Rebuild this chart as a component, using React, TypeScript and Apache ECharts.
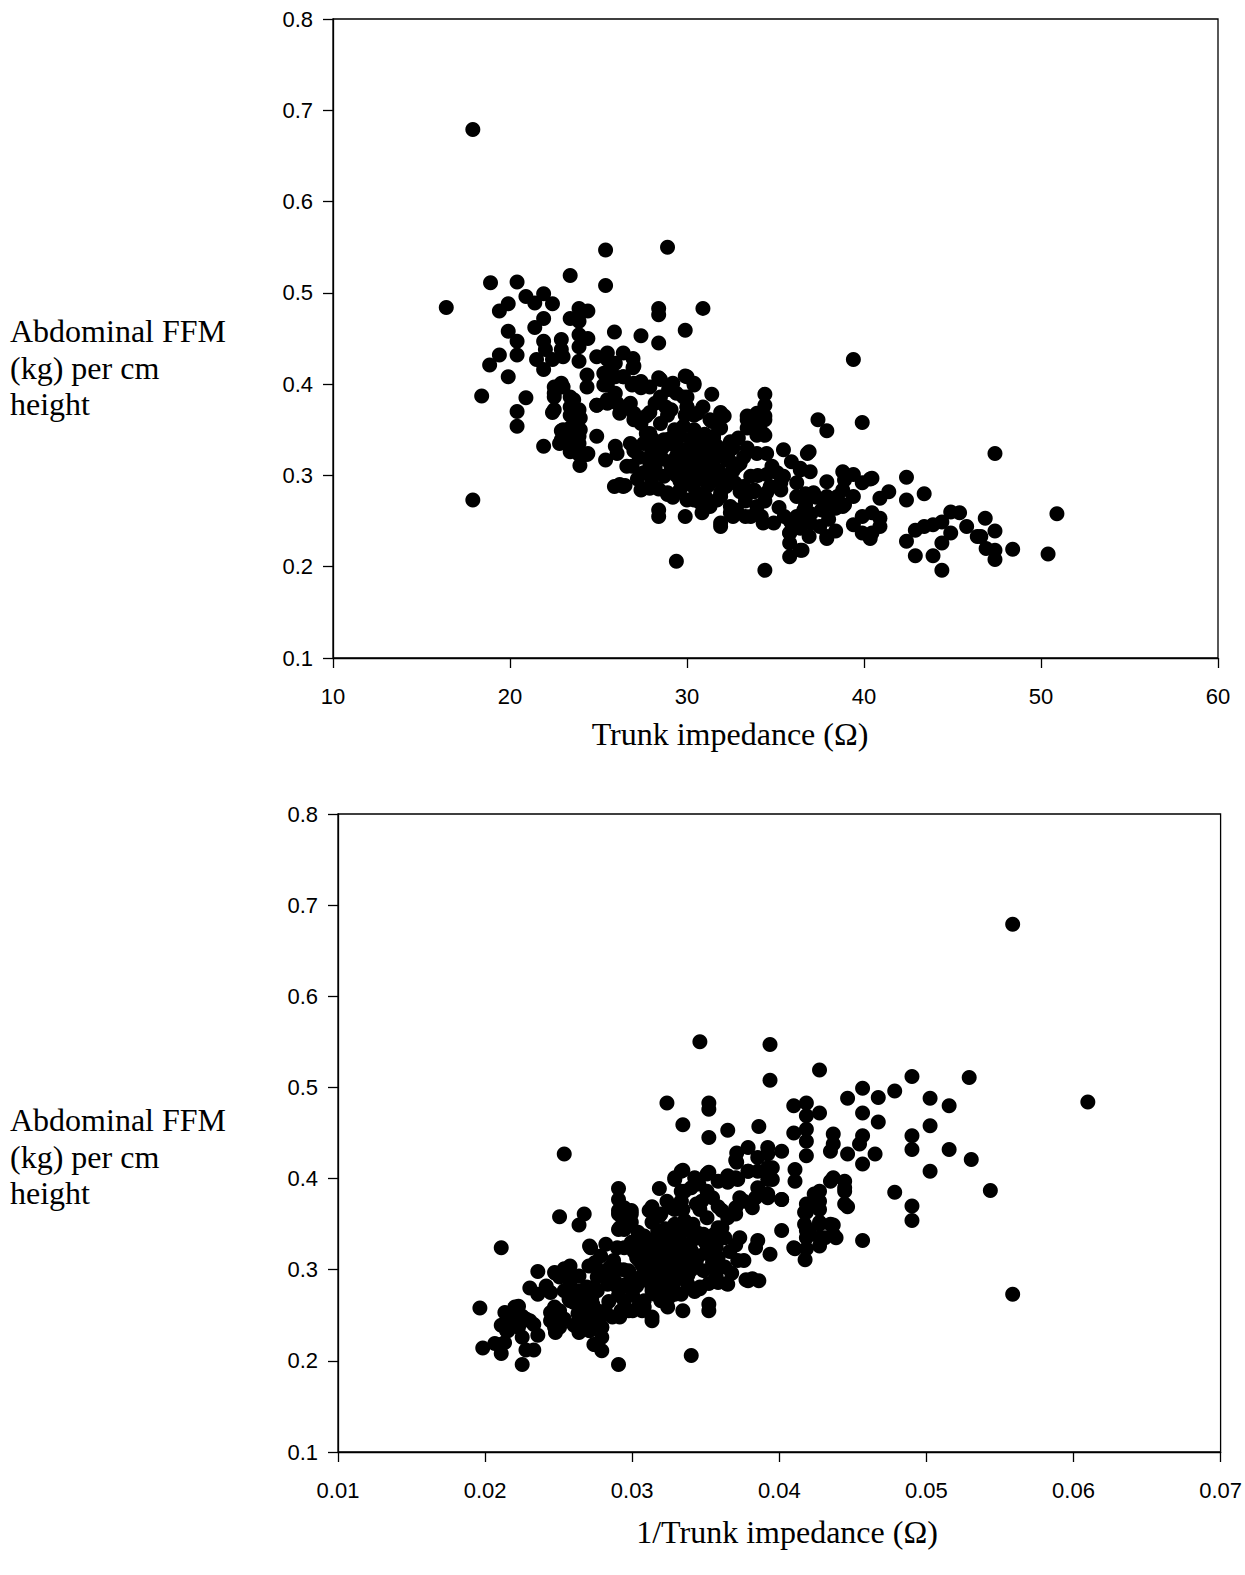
import React, { useEffect, useRef } from "react";
import * as echarts from "echarts";

// Trunk impedance (Ω) and abdominal FFM (kg) per cm height
const impedance = [
  17.9, 25.4, 28.9, 16.4, 18.9, 20.4, 23.4, 25.4, 20.9, 21.9, 21.4, 22.4, 19.9, 19.4, 23.9, 24.4, 23.4, 23.9, 21.9, 21.4,
  19.9, 25.9, 20.4, 20.4, 19.4, 18.85, 19.9, 18.4, 20.9, 20.4, 21.9, 22.9, 23.9, 24.4, 23.9, 22.0, 22.9, 21.5, 22.4, 23.0,
  21.9, 23.9, 24.35, 24.9, 25.5, 25.95, 25.3, 25.3, 25.95, 22.5, 22.9, 22.5, 22.5, 23.4, 23.4, 23.9, 24.35, 24.9, 25.5, 25.95,
  28.4, 28.4, 30.9, 29.9, 27.4, 28.4, 26.4, 26.95, 26.95, 26.4, 27.4, 28.4, 29.9, 30.4, 28.96, 29.4, 26.9, 27.9, 31.4, 30.9,
  31.9, 34.4, 34.4, 33.4, 33.95, 34.4, 26.8, 28.2, 28.8, 29.8, 30.0, 27.9, 20.4, 22.4, 23.4, 23.9, 21.9, 22.9, 23.4, 23.9,
  22.8, 23.4, 23.9, 23.4, 23.9, 24.4, 23.95, 24.9, 25.4, 25.95, 25.9, 17.9, 26.2, 26.5, 27.46, 28.4, 28.9, 28.4, 28.4, 29.4,
  29.9, 30.85, 31.9, 34.4, 35.8, 36.4, 35.8, 35.8, 35.9, 35.45, 36.8, 35.9, 33.6, 34.1, 34.3, 32.1, 31.3, 29.9, 29.3, 32.45,
  33.95, 34.5, 32.45, 35.1, 33.8, 34.7, 34.2, 34.9, 33.3, 32.45, 30.75, 30.0, 29.6, 26.8, 27.55, 28.4, 26.05, 26.9, 27.55, 28.1,
  28.7, 29.6, 30.3, 30.66, 31.3, 29.6, 30.4, 30.9, 31.7, 32.3, 33.0, 28.5, 29.4, 30.4, 30.9, 27.9, 29.1, 30.0, 26.2, 27.0,
  27.7, 28.5, 28.9, 30.6, 31.7, 27.9, 28.7, 31.9, 32.45, 32.8, 33.6, 34.5, 35.45, 36.2, 36.2, 36.6, 36.2, 32.8, 33.6, 33.95,
  30.4, 31.3, 31.7, 37.4, 37.9, 39.9, 36.9, 36.4, 36.96, 37.9, 38.8, 39.4, 40.35, 39.9, 38.9, 38.8, 39.4, 38.9, 38.5, 36.7,
  37.3, 36.7, 37.0, 36.5, 36.2, 38.4, 37.9, 36.9, 36.5, 39.4, 39.9, 40.45, 40.9, 40.9, 40.45, 39.9, 40.35, 40.9, 41.4, 42.4,
  42.4, 43.4, 42.4, 42.9, 43.4, 43.9, 44.4, 44.9, 45.4, 42.9, 43.9, 44.4, 44.9, 44.4, 45.8, 46.4, 46.85, 47.4, 50.9, 50.4,
  48.4, 47.4, 46.6, 46.9, 47.4, 47.4, 39.4, 31.4, 31.9, 33.4, 33.9, 34.4, 33.9, 33.4, 33.95, 34.4, 31.5, 36.4, 40.45, 38.8,
  38.4, 37.9, 32.6, 34.3, 35.8, 36.4, 36.96, 37.5, 37.9, 35.8, 36.4, 32.7, 33.2, 33.8, 34.5, 35.3, 37.15, 37.9, 38.3, 26.4,
  27.4, 27.9, 28.9, 26.6, 24.35, 23.2, 23.8, 22.9, 23.4, 23.97, 22.5, 23.0, 23.6, 23.6, 23.97, 23.0, 24.9, 25.5, 26.05, 26.6,
  27.0, 27.4, 27.7, 28.1, 25.5, 25.5, 26.4, 27.0, 27.4, 28.5, 29.2, 30.0, 30.4, 30.0, 28.5, 29.1, 30.0, 30.4, 29.8, 30.6,
  31.1, 31.5, 32.26, 32.45, 31.9, 31.9, 32.45, 31.9, 25.5, 27.0, 28.0, 28.6, 29.2, 29.8, 30.3, 30.8, 31.4, 29.0, 29.6, 30.2,
  30.6, 31.2, 31.8, 32.0, 27.3, 27.0, 28.2, 29.4, 30.9, 32.6, 33.2, 33.4, 32.9, 30.2, 29.0, 28.0, 27.2, 30.2, 31.2, 33.0,
  34.0, 34.8, 35.3, 30.5, 29.2, 31.0, 33.3, 34.4, 35.2, 35.5, 37.6, 38.0, 28.6, 29.9, 31.6, 32.2, 29.5, 31.0, 32.6, 28.0,
  30.0, 31.5,
];

const ffm = [
  0.679, 0.547, 0.550, 0.484, 0.511, 0.512, 0.519, 0.508, 0.496, 0.499, 0.489, 0.488, 0.488, 0.480, 0.483, 0.480, 0.472, 0.469, 0.472, 0.462,
  0.458, 0.457, 0.447, 0.432, 0.432, 0.421, 0.408, 0.387, 0.385, 0.370, 0.447, 0.449, 0.454, 0.450, 0.441, 0.438, 0.438, 0.427, 0.427, 0.430,
  0.416, 0.425, 0.410, 0.430, 0.434, 0.423, 0.412, 0.399, 0.408, 0.397, 0.401, 0.386, 0.372, 0.386, 0.375, 0.372, 0.397, 0.377, 0.379, 0.390,
  0.483, 0.476, 0.483, 0.459, 0.453, 0.445, 0.434, 0.428, 0.418, 0.408, 0.403, 0.407, 0.409, 0.401, 0.394, 0.390, 0.399, 0.397, 0.389, 0.375,
  0.369, 0.389, 0.377, 0.365, 0.368, 0.365, 0.379, 0.379, 0.375, 0.386, 0.375, 0.369, 0.354, 0.369, 0.366, 0.363, 0.332, 0.349, 0.352, 0.343,
  0.335, 0.335, 0.335, 0.326, 0.323, 0.324, 0.311, 0.343, 0.317, 0.332, 0.288, 0.273, 0.290, 0.289, 0.285, 0.285, 0.281, 0.262, 0.255, 0.206,
  0.255, 0.259, 0.248, 0.196, 0.211, 0.218, 0.226, 0.237, 0.248, 0.328, 0.324, 0.315, 0.361, 0.357, 0.346, 0.365, 0.361, 0.366, 0.350, 0.337,
  0.324, 0.324, 0.315, 0.303, 0.284, 0.288, 0.255, 0.248, 0.255, 0.266, 0.270, 0.273, 0.284, 0.335, 0.335, 0.335, 0.324, 0.310, 0.303, 0.301,
  0.299, 0.294, 0.302, 0.296, 0.305, 0.343, 0.350, 0.335, 0.332, 0.321, 0.313, 0.321, 0.321, 0.317, 0.317, 0.313, 0.310, 0.306, 0.368, 0.361,
  0.365, 0.357, 0.366, 0.368, 0.357, 0.346, 0.339, 0.281, 0.295, 0.310, 0.299, 0.301, 0.299, 0.292, 0.277, 0.262, 0.255, 0.262, 0.255, 0.266,
  0.273, 0.266, 0.273, 0.361, 0.349, 0.358, 0.326, 0.308, 0.304, 0.293, 0.304, 0.301, 0.296, 0.292, 0.295, 0.284, 0.277, 0.268, 0.277, 0.280,
  0.276, 0.268, 0.258, 0.250, 0.245, 0.239, 0.231, 0.233, 0.218, 0.246, 0.255, 0.259, 0.253, 0.244, 0.237, 0.237, 0.231, 0.275, 0.282, 0.298,
  0.273, 0.280, 0.228, 0.240, 0.244, 0.246, 0.249, 0.260, 0.259, 0.212, 0.212, 0.226, 0.237, 0.196, 0.244, 0.233, 0.253, 0.324, 0.258, 0.214,
  0.219, 0.239, 0.233, 0.220, 0.218, 0.208, 0.427, 0.359, 0.352, 0.361, 0.366, 0.361, 0.354, 0.352, 0.344, 0.344, 0.341, 0.306, 0.297, 0.266,
  0.264, 0.268, 0.255, 0.248, 0.251, 0.255, 0.248, 0.244, 0.233, 0.237, 0.242, 0.292, 0.288, 0.282, 0.281, 0.284, 0.281, 0.277, 0.273, 0.288,
  0.284, 0.286, 0.279, 0.310, 0.323, 0.335, 0.343, 0.339, 0.350, 0.350, 0.390, 0.397, 0.383, 0.372, 0.363, 0.350, 0.377, 0.383, 0.379, 0.375,
  0.368, 0.357, 0.346, 0.339, 0.412, 0.399, 0.408, 0.401, 0.396, 0.405, 0.401, 0.408, 0.399, 0.386, 0.386, 0.372, 0.375, 0.366, 0.354, 0.343,
  0.335, 0.343, 0.317, 0.299, 0.292, 0.277, 0.259, 0.244, 0.427, 0.420, 0.325, 0.330, 0.334, 0.328, 0.334, 0.326, 0.322, 0.315, 0.312, 0.322,
  0.310, 0.312, 0.305, 0.325, 0.320, 0.327, 0.308, 0.300, 0.300, 0.305, 0.320, 0.330, 0.341, 0.340, 0.340, 0.292, 0.296, 0.290, 0.289, 0.282,
  0.300, 0.310, 0.292, 0.282, 0.276, 0.278, 0.272, 0.272, 0.265, 0.255, 0.262, 0.252, 0.318, 0.300, 0.296, 0.288, 0.327, 0.345, 0.330, 0.300,
  0.316, 0.315,
];

// bottom panel: the same subjects plotted against 1/impedance
const invImpedance = impedance.map((v) => 1 / v);

const yAxisRange = { min: 0.1, max: 0.8, interval: 0.1 };
const xTopRange = { min: 10, max: 60, interval: 10 };
const xBottomRange = { min: 0.01, max: 0.07, interval: 0.01 };

const yTitleLines = ["Abdominal FFM", "(kg) per cm", "height"];
const xTopTitle = "Trunk impedance (\u03A9)";
const xBottomTitle = "1/Trunk impedance (\u03A9)";

export default function App() {
  const ref = useRef<HTMLDivElement>(null);
  useEffect(() => {
    if (!ref.current) return;
    const chart = echarts.init(ref.current, null, { renderer: "svg" });
    const sans = "Liberation Sans, Arial, sans-serif";
    const serif = "Liberation Serif, Times New Roman, serif";
    const axisCommon = {
      axisLine: { show: true, onZero: false, lineStyle: { color: "#000", width: 1.3 } },
      axisTick: { show: true, inside: false, length: 10, lineStyle: { color: "#000", width: 1.3 } },
      splitLine: { show: false },
    };
    const xAxis = (gridIndex: number, r: any, digits: number) => ({
      type: "value",
      gridIndex,
      min: r.min,
      max: r.max,
      interval: r.interval,
      ...axisCommon,
      axisLabel: {
        color: "#000",
        fontFamily: sans,
        fontSize: 22,
        margin: 27,
        formatter: (v: number) => (digits === 0 ? String(Math.round(v)) : v.toFixed(digits)),
      },
    });
    const yAxis = (gridIndex: number) => ({
      type: "value",
      gridIndex,
      min: yAxisRange.min,
      max: yAxisRange.max,
      interval: yAxisRange.interval,
      ...axisCommon,
      axisLabel: {
        color: "#000",
        fontFamily: sans,
        fontSize: 22,
        margin: 20,
        formatter: (v: number) => v.toFixed(1),
      },
    });
    const topData = impedance.map((x, i) => [x, ffm[i]]);
    const bottomData = invImpedance.map((x, i) => [x, ffm[i]]);
    const titleStyle = { fill: "#000", fontFamily: serif, fontSize: 32 };
    const dotStyle = { color: "#000", opacity: 1 };
    chart.setOption({
      animation: false,
      backgroundColor: "#fff",
      grid: [
        { left: 333, top: 19, width: 885, height: 639, show: true, borderColor: "#000", borderWidth: 1.3 },
        { left: 338, top: 814, width: 885, height: 638, show: true, borderColor: "#000", borderWidth: 1.3 },
      ],
      xAxis: [xAxis(0, xTopRange, 0), xAxis(1, xBottomRange, 2)],
      yAxis: [yAxis(0), yAxis(1)],
      series: [
        {
          type: "scatter",
          xAxisIndex: 0,
          yAxisIndex: 0,
          data: topData,
          symbol: "circle",
          symbolSize: 15,
          itemStyle: dotStyle,
        },
        {
          type: "scatter",
          xAxisIndex: 1,
          yAxisIndex: 1,
          data: bottomData,
          symbol: "circle",
          symbolSize: 15,
          itemStyle: dotStyle,
        },
      ],
      graphic: [
        {
          type: "text",
          left: 10,
          top: 313,
          style: { ...titleStyle, text: yTitleLines.join("\n"), lineHeight: 36.5 },
        },
        {
          type: "text",
          left: 10,
          top: 1102,
          style: { ...titleStyle, text: yTitleLines.join("\n"), lineHeight: 36.5 },
        },
        {
          type: "text",
          x: 730,
          y: 734,
          style: { ...titleStyle, text: xTopTitle, align: "center", verticalAlign: "middle" },
        },
        {
          type: "text",
          x: 787,
          y: 1532,
          style: { ...titleStyle, text: xBottomTitle, align: "center", verticalAlign: "middle" },
        },
      ],
    });
    return () => chart.dispose();
  }, []);
  return (
    <div
      ref={ref}
      style={{ position: "absolute", left: 0, top: 0, width: 1245, height: 1575, background: "#fff" }}
    />
  );
}
